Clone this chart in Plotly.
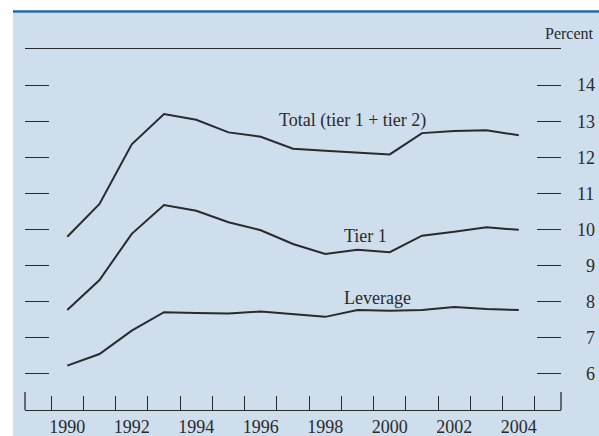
import plotly.graph_objects as go

years = list(range(1990, 2005))
total = [9.80, 10.71, 12.36, 13.20, 13.04, 12.69, 12.57, 12.24, 12.18, 12.12, 12.08, 12.67, 12.73, 12.75, 12.61]
tier1 = [7.77, 8.60, 9.88, 10.68, 10.52, 10.20, 9.98, 9.60, 9.32, 9.44, 9.37, 9.83, 9.94, 10.06, 9.99]
leverage = [6.23, 6.55, 7.20, 7.71, 7.69, 7.67, 7.73, 7.65, 7.58, 7.77, 7.75, 7.77, 7.85, 7.80, 7.77]

year_labels = list(range(1990, 2005, 2))
year_ticks = [y + 0.5 for y in range(1989, 2005)]
pct_ticks = list(range(6, 15))

BG = "#cfdeed"
INK = "#2a2a2a"
FONT = "Liberation Serif"

fig = go.Figure()
for name, vals in [("Total", total), ("Tier 1", tier1), ("Leverage", leverage)]:
    fig.add_trace(
        go.Scatter(
            x=years,
            y=vals,
            mode="lines",
            name=name,
            line=dict(color=INK, width=2),
            showlegend=False,
        )
    )

xr = [1988.69, 2005.31]
fig.update_layout(
    width=599,
    height=436,
    margin=dict(l=25, r=38, t=49, b=26),
    paper_bgcolor="white",
    plot_bgcolor="rgba(0,0,0,0)",
    font=dict(family=FONT, size=18, color=INK),
    xaxis=dict(
        range=xr,
        tickvals=year_labels,
        ticks="",
        showline=True,
        mirror=True,
        linecolor=INK,
        linewidth=1.3,
        showgrid=False,
        zeroline=False,
        automargin=False,
        ticklabelstandoff=0,
        tickfont=dict(size=18),
    ),
    xaxis2=dict(
        range=xr,
        overlaying="x",
        anchor="y",
        side="bottom",
        tickvals=year_ticks,
        ticks="inside",
        ticklen=14,
        tickwidth=1.2,
        tickcolor=INK,
        showticklabels=False,
        showline=False,
        showgrid=False,
        zeroline=False,
        automargin=False,
    ),
    yaxis=dict(
        range=[5, 15],
        side="right",
        tickvals=pct_ticks,
        ticktext=[("\u2007" + str(v)) if v < 10 else str(v) for v in pct_ticks],
        ticks="inside",
        ticklen=24,
        tickwidth=1.2,
        tickcolor=INK,
        mirror="ticks",
        showline=False,
        showgrid=False,
        zeroline=False,
        automargin=False,
        ticklabelstandoff=15,
        tickfont=dict(size=18),
    ),
)

# invisible trace so the tick axis is drawn
fig.add_trace(go.Scatter(x=[], y=[], xaxis="x2", yaxis="y", showlegend=False))

fig.add_shape(type="rect", xref="paper", yref="paper", x0=-0.0224, x1=1.071, y0=-0.08, y1=1.1006,
              fillcolor=BG, line=dict(width=0), layer="below")
fig.add_shape(type="line", xref="paper", yref="paper", x0=-0.0224, x1=1.071, y0=1.1039, y1=1.1039,
              line=dict(color="#1f68a8", width=2.5), layer="below")
for xe in (0, 1):
    fig.add_shape(type="line", xref="paper", yref="paper", x0=xe, x1=xe, y0=0, y1=0.05,
                  line=dict(color=INK, width=1.3))

fig.add_annotation(x=1996.5, y=13.02, text="Total (tier 1 + tier 2)", showarrow=False,
                   xanchor="left", yanchor="middle", font=dict(size=18))
fig.add_annotation(x=1998.52, y=9.83, text="Tier 1", showarrow=False,
                   xanchor="left", yanchor="middle", font=dict(size=18))
fig.add_annotation(x=1998.52, y=8.10, text="Leverage", showarrow=False,
                   xanchor="left", yanchor="middle", font=dict(size=18))
fig.add_annotation(x=1.0647, y=1.0443, xref="paper", yref="paper", text="Percent", showarrow=False,
                   xanchor="right", yanchor="middle", font=dict(size=16))

fig.write_html("out.html", config={"displayModeBar": False},
               post_script="document.body.style.margin='0';")
